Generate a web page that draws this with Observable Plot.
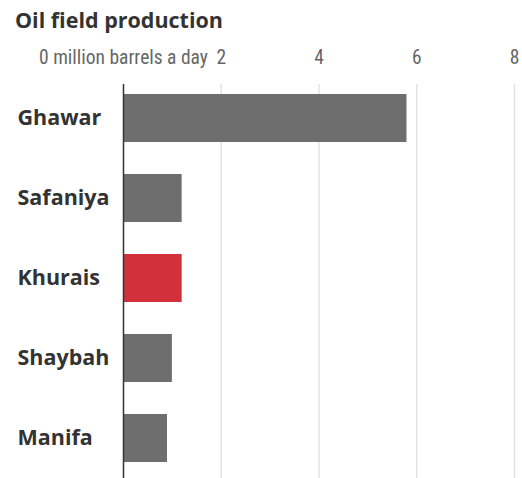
<!DOCTYPE html>
<html>
<head>
<meta charset="utf-8">
<script src="https://cdn.jsdelivr.net/npm/d3@7"></script>
<script src="https://cdn.jsdelivr.net/npm/@observablehq/plot@0.6"></script>
<style>
  html, body { margin: 0; padding: 0; background: #fff; }
  #title { font-family: "Open Sans", sans-serif; font-weight: 700; font-size: 21.5px; color: #333; height: 38px; line-height: 40px; padding-left: 15px; box-sizing: border-box; }
</style>
</head>
<body>
<div id="title">Oil field production</div>
<div id="chart"></div>
<script>
const fields = ["Ghawar", "Safaniya", "Khurais", "Shaybah", "Manifa"];
const production = [5.8, 1.2, 1.2, 1.0, 0.9];
const highlight = ["Khurais"];
const xTicks = [0, 2, 4, 6, 8];
const unitLabel = "million barrels a day";

const data = fields.map((f, i) => ({field: f, value: production[i], hl: highlight.includes(f)}));

const chart = Plot.plot({
  width: 522,
  height: 440,
  marginLeft: 123,
  marginRight: 8,
  marginTop: 39,
  marginBottom: 0,
  style: {background: "#fff"},
  x: {domain: [0, 8], ticks: xTicks},
  y: {domain: fields, paddingInner: 0.4, paddingOuter: 0.18},
  marks: [
    Plot.ruleX(xTicks.filter(d => d !== 0), {stroke: "#e3e3e3", strokeWidth: 1.5, insetTop: 7}),
    Plot.barX(data, {x: "value", y: "field", fill: d => d.hl ? "#d0313b" : "#6e6e6e"}),
    Plot.ruleX([0], {stroke: "#333", strokeWidth: 1.5, insetTop: 7}),
    Plot.axisX({
      anchor: "top", ticks: xTicks, tickSize: 0, tickPadding: 0, dy: -14,
      tickFormat: d => d === 0 ? `0 ${unitLabel}` : String(d),
      fontSize: 19.5, fill: "#666",
      fontFamily: "'Liberation Sans Narrow', 'Roboto Condensed', sans-serif",
      label: null
    }),
    Plot.axisY({
      anchor: "left", tickSize: 0, tickPadding: 0, textAnchor: "start", dx: -106,
      fontSize: 21.5, fontWeight: 700, fill: "#333",
      fontFamily: "'Open Sans', sans-serif",
      label: null
    })
  ]
});
document.getElementById("chart").appendChild(chart);
</script>
</body>
</html>
